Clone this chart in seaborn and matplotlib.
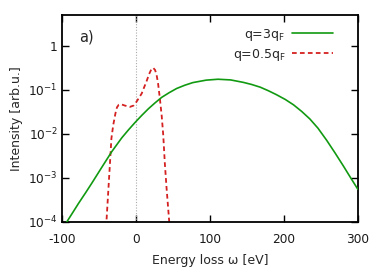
import numpy as np
import pandas as pd
import matplotlib
matplotlib.use('Agg')
import matplotlib.pyplot as plt
import seaborn as sns

# q = 3 qF  (energy loss in eV, intensity in arb. units)
w_q3 = [-100, -93, -85, -77.5, -68, -59.5, -46, -32.4, -19, -10, -1, 8, 17, 26,
        35, 45, 55, 66, 77, 95, 111, 128, 145, 156, 168, 179, 190, 202, 213,
        224, 235, 246, 258, 269, 280, 290, 300]
i_q3 = [6.6e-5, 1.02e-4, 1.66e-4, 2.63e-4, 4.57e-4, 7.59e-4, 1.74e-3, 3.98e-3,
        8.13e-3, 1.23e-2, 1.82e-2, 2.63e-2, 3.72e-2, 5.07e-2, 6.76e-2, 8.61e-2,
        0.107, 0.127, 0.146, 0.166, 0.174, 0.168, 0.148, 0.133, 0.115, 0.0955,
        0.0776, 0.0603, 0.0457, 0.0324, 0.0219, 0.0135, 7.08e-3, 3.72e-3,
        1.91e-3, 1.02e-3, 5.5e-4]

# q = 0.5 qF
w_q05 = [-41, -39.6, -37.4, -35, -33, -30.5, -27.5, -25.5, -23, -20, -15, -8, -3,
         1, 5, 8, 11, 14.4, 18, 21, 23.4, 26, 28, 30, 32.4, 35, 37, 39.2, 41.5,
         44.6, 46.5]
i_q05 = [5e-5, 1.1e-4, 4.5e-4, 2.1e-3, 7.9e-3, 1.6e-2, 2.95e-2, 4.0e-2, 4.6e-2,
         4.7e-2, 4.4e-2, 4.1e-2, 4.4e-2, 5.4e-2, 6.9e-2, 8.3e-2, 0.112, 0.155,
         0.229, 0.295, 0.316, 0.282, 0.219, 0.141, 0.065, 0.025, 9.5e-3, 2.1e-3,
         5.9e-4, 1.3e-4, 5e-5]

x_ticks = [-100, 0, 100, 200, 300]
y_ticks = [1e-4, 1e-3, 1e-2, 1e-1, 1]
y_ticklabels = ['10$^{-4}$', '10$^{-3}$', '10$^{-2}$', '10$^{-1}$', '1']

sns.set_style('ticks')
plt.rcParams['font.family'] = ['DejaVu Sans']
plt.rcParams['font.size'] = 9
plt.rcParams['mathtext.default'] = 'regular'
plt.rcParams['axes.unicode_minus'] = False

fig = plt.figure(figsize=(3.84, 2.73), dpi=100)
ax = fig.add_axes([0.161, 0.187, 0.771, 0.758])

df3 = pd.DataFrame({'w': w_q3, 'I': i_q3})
df05 = pd.DataFrame({'w': w_q05, 'I': i_q05})

ax.axvline(0, color='#aaaaaa', lw=0.8, ls=(0, (1, 1.5)), zorder=1)
sns.lineplot(data=df3, x='w', y='I', ax=ax, color='#119a11', lw=1.2,
             label='q=3q$_F$', zorder=3)
sns.lineplot(data=df05, x='w', y='I', ax=ax, color='#d42020', lw=1.3,
             ls=(0, (2.6, 1.8)), label='q=0.5q$_F$', zorder=2)

ax.set_yscale('log')
ax.set_xlim(-100, 300)
ax.set_ylim(1e-4, 5)
ax.set_xticks(x_ticks)
ax.set_yticks(y_ticks)
ax.set_yticklabels(y_ticklabels)
ax.minorticks_off()
ax.tick_params(direction='in', length=5, width=1, top=True, right=True,
               colors='black', labelcolor='#1a1a1a', labelsize=8.7)
ax.tick_params(axis='x', pad=8)
ax.tick_params(axis='y', pad=3)
for s in ax.spines.values():
    s.set_linewidth(1.3)
    s.set_color('black')

ax.set_xlabel('Energy loss ω [eV]', labelpad=6)
ax.set_ylabel('Intensity [arb.u.]', labelpad=4)
ax.text(0.06, 0.87, 'a)', transform=ax.transAxes, fontsize=10.5)

leg = ax.legend(loc='upper right', frameon=False, markerfirst=False,
                handlelength=3.3, borderaxespad=0.3, labelspacing=0.3,
                handletextpad=0.5, bbox_to_anchor=(0.945, 0.985))
for t in leg.get_texts():
    t.set_ha('right')

fig.savefig('out.png', dpi=100)
